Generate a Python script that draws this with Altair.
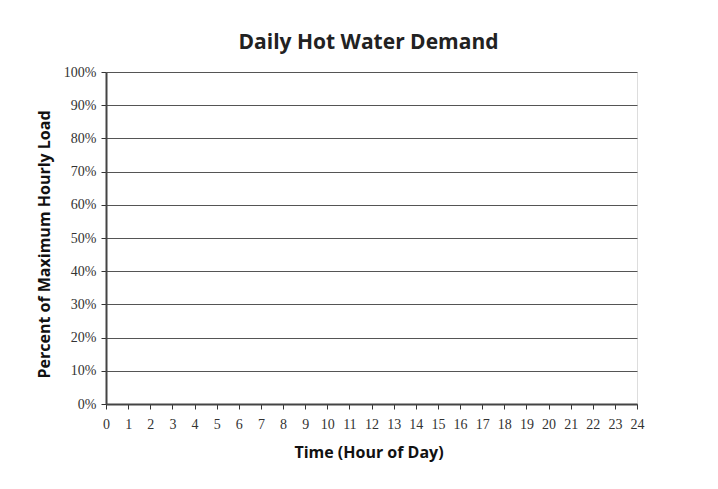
import altair as alt
import pandas as pd

# Axis ticks of the (empty) reference chart
hours = list(range(0, 25))
percent_ticks = [0.0, 0.1, 0.2, 0.3, 0.4, 0.5, 0.6, 0.7, 0.8, 0.9, 1.0]
# The reference shows no data series; an empty series keeps the axes.
demand_hour = []
demand_pct = []

df = pd.DataFrame({"hour": pd.Series(demand_hour, dtype=float),
                   "pct": pd.Series(demand_pct, dtype=float)})

W, H = 531, 332

chart = (
    alt.Chart(df)
    .mark_line(color="#000080")
    .encode(
        x=alt.X(
            "hour:Q",
            scale=alt.Scale(domain=[0, 24], nice=False, zero=False),
            axis=alt.Axis(
                values=hours,
                format="d",
                title="Time (Hour of Day)",
                grid=False,
                tickSize=5,
                tickColor="#333",
                tickWidth=1,
                domainColor="#444",
                domainWidth=2,
                labelFont="Liberation Serif",
                labelFontSize=14,
                labelColor="#333",
                labelPadding=8,
                labelFlush=False,
                labelOverlap=False,
                titleFont="Open Sans",
                titleFontSize=16,
                titleFontWeight="bold",
                titleColor="#111",
                titleX=W / 2 - 3,
                titleY=48,
                titleAlign="center",
                titleBaseline="middle",
            ),
        ),
        y=alt.Y(
            "pct:Q",
            scale=alt.Scale(domain=[0, 1], nice=False),
            axis=alt.Axis(
                values=percent_ticks,
                format=".0%",
                title="Percent of Maximum Hourly Load",
                grid=True,
                gridColor="#555",
                gridWidth=1,
                gridOpacity=1,
                tickSize=5,
                tickColor="#333",
                domainColor="#444",
                domainWidth=2,
                labelFont="Liberation Serif",
                labelFontSize=14,
                labelColor="#333",
                labelPadding=5,
                labelFlush=False,
                titleFont="Open Sans",
                titleFontSize=16,
                titleFontWeight="bold",
                titleColor="#111",
                titleAngle=270,
                titleX=-62,
                titleY=172,
                titleAlign="center",
                titleBaseline="middle",
            ),
        ),
    )
    .properties(
        width=W,
        height=H,
        autosize=alt.AutoSizeParams(type="none"),
        padding={"left": 98, "top": 64, "right": 65, "bottom": 65},
        title=alt.TitleParams(
            "Daily Hot Water Demand",
            font="Open Sans",
            fontSize=21,
            fontWeight="bold",
            color="#222",
            anchor="middle",
            frame="group",
            baseline="alphabetic",
            offset=24,
            dy=29,
            dx=-3,
        ),
    )
    .configure_view(stroke="#333", strokeWidth=1.5)
    .configure(background="white")
)

chart.save("out.html", embed_options={"renderer": "svg", "actions": False})
